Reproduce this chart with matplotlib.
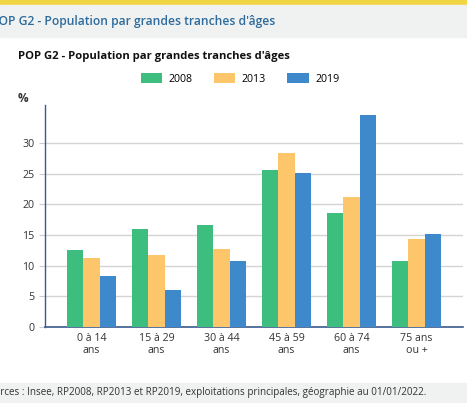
import matplotlib.pyplot as plt
import matplotlib.patches as mpatches
import numpy as np

W, H = 467, 403

categories = ["0 à 14\nans", "15 à 29\nans", "30 à 44\nans", "45 à 59\nans", "60 à 74\nans", "75 ans\nou +"]
years = ["2008", "2013", "2019"]
v2008 = [12.6, 15.9, 16.6, 25.6, 18.6, 10.7]
v2013 = [11.3, 11.7, 12.7, 28.4, 21.2, 14.4]
v2019 = [8.3, 6.1, 10.7, 25.1, 34.5, 15.2]
colors = ["#3dbd7e", "#fec66a", "#3e88cc"]
yticks = [0, 5, 10, 15, 20, 25, 30]

plt.rcParams['font.family'] = ['Open Sans', 'DejaVu Sans']

fig = plt.figure(figsize=(W / 100, H / 100), dpi=100)
fig.patch.set_facecolor('white')

def fy(py):
    return 1 - py / H

# page decorations: yellow band, grey header and footer
fig.patches.append(mpatches.Rectangle((0, fy(5)), 1, 5 / H, transform=fig.transFigure,
                                      color="#f2d544", zorder=0))
fig.patches.append(mpatches.Rectangle((0, fy(37)), 1, 32 / H, transform=fig.transFigure,
                                      color="#f0f2f2", zorder=0))
fig.patches.append(mpatches.Rectangle((0, 0), 1, 20 / H, transform=fig.transFigure,
                                      color="#f0f2f2", zorder=0))
fig.text(-9 / W, fy(21), "POP G2 - Population par grandes tranches d'âges", fontsize=8.7,
         color="#2e6b9c", fontweight='semibold', va='center', ha='left')
fig.text(-17 / W, fy(393), "Sources : Insee, RP2008, RP2013 et RP2019, exploitations principales, géographie au 01/01/2022.",
         fontsize=7.1, color="#333333", va='center', ha='left')

fig.text(18 / W, fy(56), "POP G2 - Population par grandes tranches d'âges", fontsize=8.1,
         fontweight='bold', color="#111111", va='center', ha='left')
fig.text(18 / W, fy(98), "%", fontsize=8.5, fontweight='bold', color="#333333", va='center', ha='left')

ax = fig.add_axes([45 / W, (H - 327) / H, 418 / W, (327 - 105) / H])
x = np.arange(len(categories))
bw = 0.255
for i, (vals, c) in enumerate(zip([v2008, v2013, v2019], colors)):
    ax.bar(x + (i - 1) * bw, vals, width=bw, color=c, zorder=3, label=years[i])

ax.set_xlim(-0.715, 5.715)
ax.set_ylim(0, 36.2)
ax.set_yticks(yticks)
ax.set_xticks(x)
ax.set_xticklabels(categories)
ax.tick_params(axis='x', length=0, labelsize=7.7, colors="#333333", pad=4)
ax.tick_params(axis='y', length=4, labelsize=7.7, colors="#333333", color="#cccccc")
ax.grid(axis='y', color="#d4d4d4", linewidth=1, zorder=0)
for s in ['top', 'right']:
    ax.spines[s].set_visible(False)
ax.spines['left'].set_color("#3a5a8c")
ax.spines['bottom'].set_color("#3a5a8c")
ax.spines['left'].set_linewidth(1)
ax.spines['bottom'].set_linewidth(1.2)

leg = ax.legend(loc='center', ncol=3, frameon=False,
                fontsize=7.7, handlelength=2.0, handleheight=1.1, handletextpad=0.6,
                columnspacing=2.0,
                bbox_to_anchor=(240 / W, fy(79)), bbox_transform=fig.transFigure)

fig.savefig("out.png", dpi=100, facecolor='white')
